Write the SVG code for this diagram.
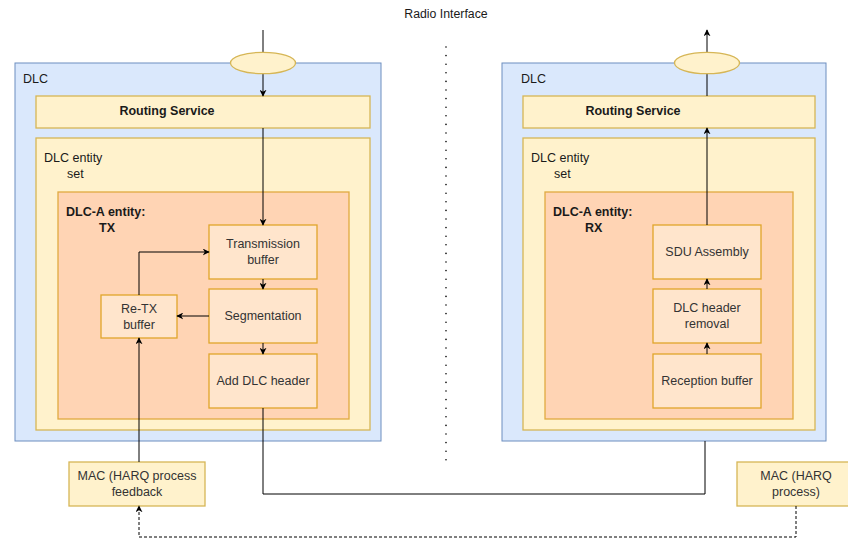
<svg xmlns="http://www.w3.org/2000/svg" width="848" height="539" viewBox="0 0 848 539">
  <style>
    text { font-family: "Liberation Sans", Arial, sans-serif; font-size: 12.5px; fill: #1a1a1a; }
    .c { text-anchor: middle; }
    .b { font-weight: bold; }
    .lbl { fill: #333; }
    .dlc { fill: #dae8fc; stroke: #6c8ebf; stroke-width: 1; }
    .yel { fill: #fff2cc; stroke: #d6b656; stroke-width: 1.3; }
    .ent { fill: #ffd4b4; stroke: #e0aa40; stroke-width: 1.3; }
    .blk { fill: #ffe5cc; stroke: #e0a52a; stroke-width: 1.3; }
    .ln { fill: none; stroke: #000; stroke-width: 1; }
    .dash { fill: none; stroke: #000; stroke-width: 1; stroke-dasharray: 3 2; }
  </style>
  <defs>
    <marker id="arr" viewBox="0 0 10 10" refX="9" refY="5" markerWidth="7" markerHeight="7" markerUnits="userSpaceOnUse" orient="auto">
      <path d="M0,0 L10,5 L0,10 L3,5 Z" fill="#000"/>
    </marker>
  </defs>

  <!-- Radio interface label and divider -->
  <text class="c" x="446" y="18" style="font-size:12.3px">Radio Interface</text>
  <line x1="446" y1="47" x2="446" y2="463" stroke="#000" stroke-width="1.6" stroke-dasharray="0 8.6" stroke-linecap="round"/>

  <!-- Transmitting DLC -->
  <g id="dlc-tx">
    <rect class="dlc" x="15" y="63" width="366" height="378"/>
    <text x="23" y="83">DLC</text>
  </g>
  <g id="routing-tx">
    <rect class="yel" x="36" y="96" width="334" height="32"/>
    <text class="c b" x="167" y="115">Routing Service</text>
  </g>
  <g id="entity-set-tx">
    <rect class="yel" x="36" y="138" width="334" height="292"/>
    <text x="44" y="162">DLC entity</text>
    <text x="67" y="178">set</text>
  </g>
  <g id="entity-tx">
    <rect class="ent" x="58" y="192" width="291" height="227"/>
    <text class="b" x="66" y="216">DLC-A entity:</text>
    <text class="b" x="99" y="232">TX</text>
  </g>
  <g id="tx-buffer">
    <rect class="blk" x="209" y="225" width="108" height="54"/>
    <text class="c lbl" x="263" y="248">Transmission</text>
    <text class="c lbl" x="263" y="264">buffer</text>
  </g>
  <g id="segmentation">
    <rect class="blk" x="209" y="289" width="108" height="54"/>
    <text class="c lbl" x="263" y="320">Segmentation</text>
  </g>
  <g id="add-header">
    <rect class="blk" x="209" y="354" width="108" height="54"/>
    <text class="c lbl" x="263" y="385">Add DLC header</text>
  </g>
  <g id="retx-buffer">
    <rect class="blk" x="101" y="295" width="76" height="43"/>
    <text class="c lbl" x="139" y="313">Re-TX</text>
    <text class="c lbl" x="139" y="329">buffer</text>
  </g>

  <!-- Receiving DLC -->
  <g id="dlc-rx">
    <rect class="dlc" x="502" y="63" width="324" height="378"/>
    <text x="521" y="83">DLC</text>
  </g>
  <g id="routing-rx">
    <rect class="yel" x="523" y="96" width="292" height="32"/>
    <text class="c b" x="633" y="115">Routing Service</text>
  </g>
  <g id="entity-set-rx">
    <rect class="yel" x="523" y="138" width="292" height="292"/>
    <text x="531" y="162">DLC entity</text>
    <text x="554" y="178">set</text>
  </g>
  <g id="entity-rx">
    <rect class="ent" x="545" y="192" width="248" height="227"/>
    <text class="b" x="553" y="216">DLC-A entity:</text>
    <text class="b" x="585" y="232">RX</text>
  </g>
  <g id="sdu-assembly">
    <rect class="blk" x="653" y="225" width="108" height="54"/>
    <text class="c lbl" x="707" y="256">SDU Assembly</text>
  </g>
  <g id="header-removal">
    <rect class="blk" x="653" y="289" width="108" height="54"/>
    <text class="c lbl" x="707" y="312">DLC header</text>
    <text class="c lbl" x="707" y="328">removal</text>
  </g>
  <g id="rx-buffer">
    <rect class="blk" x="653" y="354" width="108" height="54"/>
    <text class="c lbl" x="707" y="385">Reception buffer</text>
  </g>

  <!-- MAC layer -->
  <g id="mac-feedback">
    <rect class="yel" x="69" y="462" width="136" height="44"/>
    <text class="c lbl" x="137" y="480">MAC (HARQ process</text>
    <text class="c lbl" x="137" y="496">feedback</text>
  </g>
  <g id="mac-process">
    <rect class="yel" x="737" y="462" width="120" height="44"/>
    <text class="c lbl" x="796" y="480">MAC (HARQ</text>
    <text class="c lbl" x="796" y="496">process)</text>
  </g>

  <!-- Connectors -->
  <g id="connectors">
    <line class="ln" x1="263" y1="30" x2="263" y2="96" marker-end="url(#arr)"/>
    <line class="ln" x1="263" y1="128" x2="263" y2="225" marker-end="url(#arr)"/>
    <line class="ln" x1="263" y1="279" x2="263" y2="289" marker-end="url(#arr)"/>
    <line class="ln" x1="263" y1="343" x2="263" y2="354" marker-end="url(#arr)"/>
    <line class="ln" x1="209" y1="316" x2="177" y2="316" marker-end="url(#arr)"/>
    <polyline class="ln" points="139,295 139,252 209,252" marker-end="url(#arr)"/>
    <line class="ln" x1="139" y1="462" x2="139" y2="338" marker-end="url(#arr)"/>
    <polyline class="ln" points="263,408 263,494 705,494 705,441"/>
    <line class="ln" x1="707" y1="354" x2="707" y2="343" marker-end="url(#arr)"/>
    <line class="ln" x1="707" y1="289" x2="707" y2="279" marker-end="url(#arr)"/>
    <line class="ln" x1="707" y1="225" x2="707" y2="128" marker-end="url(#arr)"/>
    <line class="ln" x1="707" y1="96" x2="707" y2="30" marker-end="url(#arr)"/>
    <polyline class="dash" points="796,506 796,537 139,537 139,506" marker-end="url(#arr)"/>
  </g>

  <!-- Interface points on the DLC boundaries -->
  <g id="port-tx">
    <ellipse class="yel" cx="263" cy="63" rx="32.5" ry="10.7"/>
  </g>
  <g id="port-rx">
    <ellipse class="yel" cx="707" cy="63" rx="32.5" ry="10.7"/>
  </g>
</svg>
